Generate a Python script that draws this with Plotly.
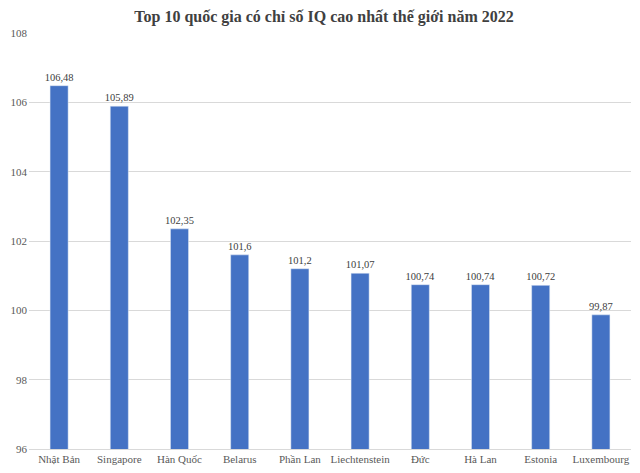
import plotly.graph_objects as go

countries = ["Nhật Bản", "Singapore", "Hàn Quốc", "Belarus", "Phần Lan",
             "Liechtenstein", "Đức", "Hà Lan", "Estonia", "Luxembourg"]
iq = [106.48, 105.89, 102.35, 101.6, 101.2, 101.07, 100.74, 100.74, 100.72, 99.87]
labels = ["106,48", "105,89", "102,35", "101,6", "101,2", "101,07", "100,74", "100,74", "100,72", "99,87"]
y_ticks = [96, 98, 100, 102, 104, 106, 108]

serif = "Liberation Serif, Times New Roman, serif"

fig = go.Figure(go.Bar(
    x=countries, y=iq, text=labels, textposition="outside",
    textfont=dict(family=serif, size=10.5, color="#404040"),
    constraintext="none",
    marker=dict(color="#4472C4"), width=0.3, cliponaxis=False,
))
fig.update_layout(
    width=632, height=465,
    margin=dict(l=21, r=9, t=25, b=24, autoexpand=False),
    paper_bgcolor="white", plot_bgcolor="white",
    title=dict(text="<b>Top 10 quốc gia có chỉ số IQ cao nhất thế giới năm 2022</b>",
               x=0.5, xanchor="center", y=1.0, yanchor="top",
               pad=dict(t=3, b=0),
               font=dict(family=serif, size=16, color="#404040")),
    font=dict(family=serif, size=11, color="#595959"),
    showlegend=False,
)
fig.update_yaxes(range=[96, 108], tickvals=y_ticks, showgrid=True, gridcolor="#D9D9D9",
                 gridwidth=1, zeroline=False, showline=False, ticks="",
                 ticklabelstandoff=1,
                 tickfont=dict(family=serif, size=11, color="#595959"))
fig.update_xaxes(showline=True, linecolor="#D9D9D9", ticks="",
                 tickfont=dict(family=serif, size=11, color="#595959"))
fig.write_html("out.html")
